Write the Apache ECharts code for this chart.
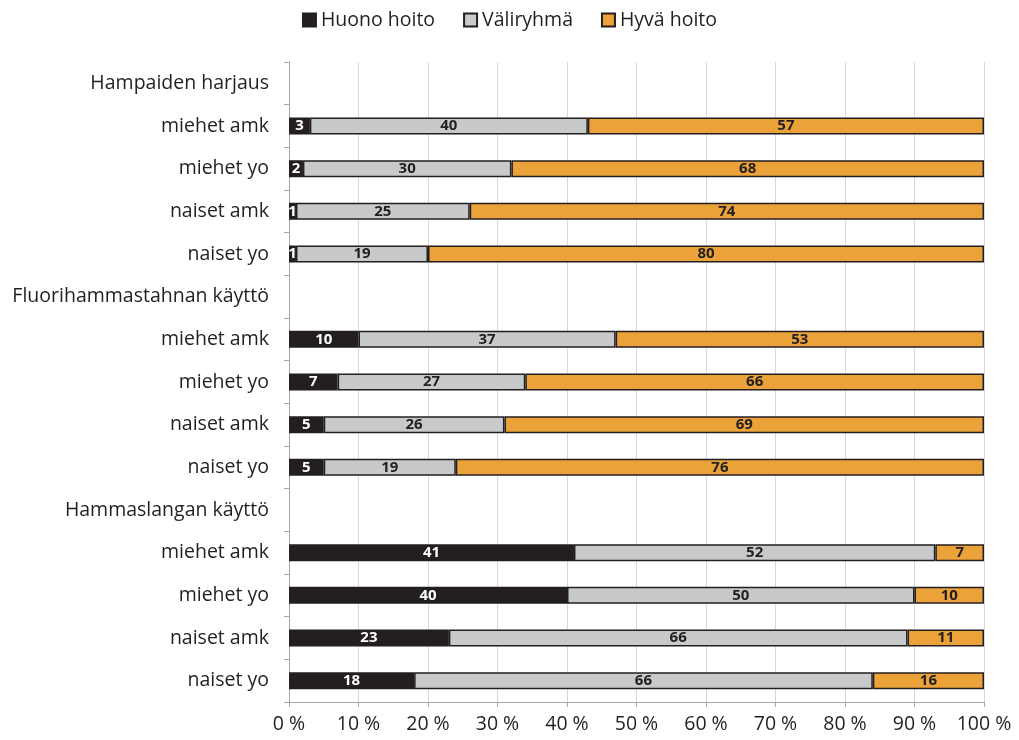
<!DOCTYPE html>
<html><head><meta charset="utf-8">
<script src="https://cdn.jsdelivr.net/npm/echarts@6/dist/echarts.min.js"></script>
<style>html,body{margin:0;padding:0;background:#fff}#c{width:1019px;height:740px}</style>
</head><body><div id="c"></div>
<script>
const categories = ["Hampaiden harjaus","miehet amk","miehet yo","naiset amk","naiset yo",
  "Fluorihammastahnan käyttö","miehet amk","miehet yo","naiset amk","naiset yo",
  "Hammaslangan käyttö","miehet amk","miehet yo","naiset amk","naiset yo"];
const huono = [null,3,2,1,1,null,10,7,5,5,null,41,40,23,18];
const vali  = [null,40,30,25,19,null,37,27,26,19,null,52,50,66,66];
const hyva  = [null,57,68,74,80,null,53,66,69,76,null,7,10,11,16];
const xTicks = [0,10,20,30,40,50,60,70,80,90,100];

const FONT = 'Open Sans';
const FS = 19.5;
function s(name, data, color, labelColor){
  return {name, type:'bar', stack:'t', data, barWidth:17,
    itemStyle:{color, borderColor:'#231f20', borderWidth:1.5},
    label:{show:true, position:'inside', color:labelColor, fontFamily:FONT, fontWeight:'bold', fontSize:15,
      formatter:p=>p.value==null?'':p.value}
  };
}
const chart = echarts.init(document.getElementById('c'));
chart.setOption({
  animation:false,
  textStyle:{fontFamily:FONT},
  legend:{top:5, left:'center', icon:'rect', itemWidth:13, itemHeight:13, itemGap:28,
    textStyle:{fontFamily:FONT, fontSize:FS, color:'#231f20'},
    data:['Huono hoito','Väliryhmä','Hyvä hoito']},
  grid:{left:289, right:35, top:62, bottom:38, containLabel:false},
  xAxis:{type:'value', min:0, max:100, interval:10,
    axisLine:{show:true, lineStyle:{color:'#a6a6a6'}},
    axisTick:{show:true, length:5, lineStyle:{color:'#a6a6a6'}},
    splitLine:{show:true, lineStyle:{color:'#d9d9d9'}},
    axisLabel:{fontFamily:FONT, fontSize:FS, color:'#231f20', margin:12, formatter:v=>v+' %'}},
  yAxis:{type:'category', inverse:true, data:categories,
    axisLine:{show:true, lineStyle:{color:'#a6a6a6'}},
    axisTick:{show:true, length:5, lineStyle:{color:'#a6a6a6'}},
    axisLabel:{fontFamily:FONT, fontSize:FS, color:'#231f20', margin:20}},
  series:[
    s('Huono hoito', huono, '#231f20', '#ffffff'),
    s('Väliryhmä', vali, '#c8c9ca', '#231f20'),
    s('Hyvä hoito', hyva, '#eaa239', '#231f20')
  ]
});
</script></body></html>
